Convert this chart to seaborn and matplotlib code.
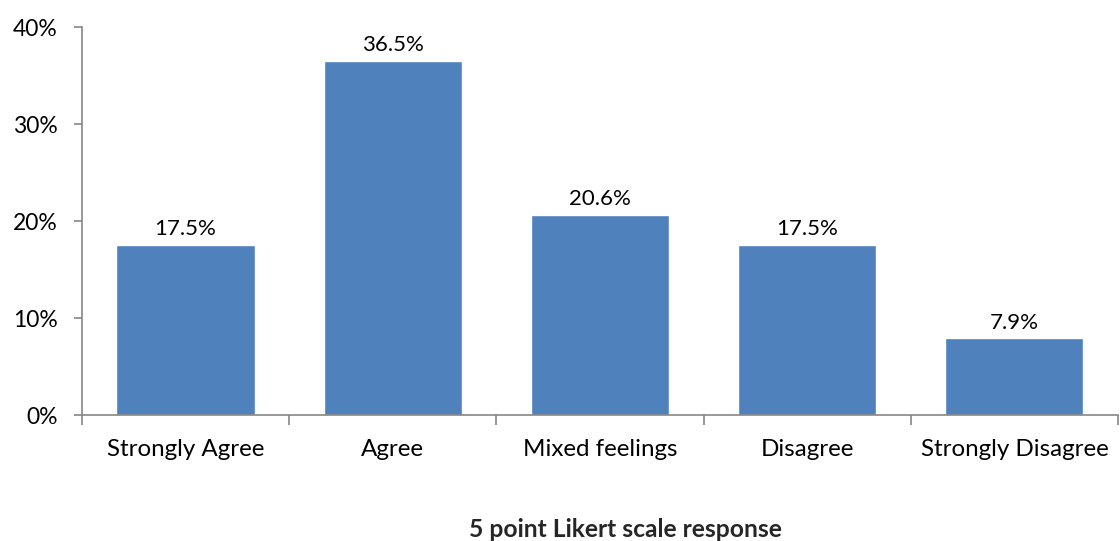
import matplotlib
matplotlib.use("Agg")
import matplotlib.pyplot as plt
import seaborn as sns
import pandas as pd
from matplotlib.ticker import FixedLocator, PercentFormatter

categories = ["Strongly Agree", "Agree", "Mixed feelings", "Disagree", "Strongly Disagree"]
percentages = [17.5, 36.5, 20.6, 17.5, 7.9]
y_ticks = [0, 10, 20, 30, 40]

sns.set_theme(style="white")
plt.rcParams["font.family"] = ["Lato", "DejaVu Sans"]

df = pd.DataFrame({"response": categories, "pct": percentages})

fig = plt.figure(figsize=(11.2, 5.41), dpi=100)
ax = fig.add_axes([0.0732, 0.2329, 0.9250, 0.7171])

sns.barplot(data=df, x="response", y="pct", color="#4F81BD", width=0.667,
            saturation=1, ax=ax)

axis_grey = "#868686"
ax.set_ylim(0, 40)
ax.set_xlim(-0.5, len(categories) - 0.5)
ax.yaxis.set_major_locator(FixedLocator(y_ticks))
ax.yaxis.set_major_formatter(PercentFormatter(decimals=0))

for side in ("top", "right"):
    ax.spines[side].set_visible(False)
for side in ("left", "bottom"):
    ax.spines[side].set_color(axis_grey)
    ax.spines[side].set_linewidth(1.2)

# Category labels sit between the boundary ticks
ax.set_xticks([i - 0.5 for i in range(len(categories) + 1)])
ax.set_xticklabels([])
ax.set_xticks(range(len(categories)), minor=True)
ax.set_xticklabels(categories, minor=True)
ax.tick_params(axis="x", which="major", direction="out", length=7, width=1.2,
               color=axis_grey, bottom=True)
ax.tick_params(axis="x", which="minor", length=0, pad=17, labelsize=17.4,
               labelcolor="black")
ax.tick_params(axis="y", direction="out", length=6, width=1.2, color=axis_grey,
               left=True, labelsize=16.5, labelcolor="black", pad=11.5)

for bar, val in zip(ax.patches, percentages):
    ax.text(bar.get_x() + bar.get_width() / 2, val + 0.6, f"{val:.1f}%",
            ha="center", va="bottom", fontsize=16, color="black")

ax.set_ylabel("")
ax.set_xlabel("5 point Likert scale response", fontsize=17.7, fontweight="bold",
              va="center")
ax.xaxis.set_label_coords(0.525, -0.296)

fig.savefig("out.png", dpi=100)
